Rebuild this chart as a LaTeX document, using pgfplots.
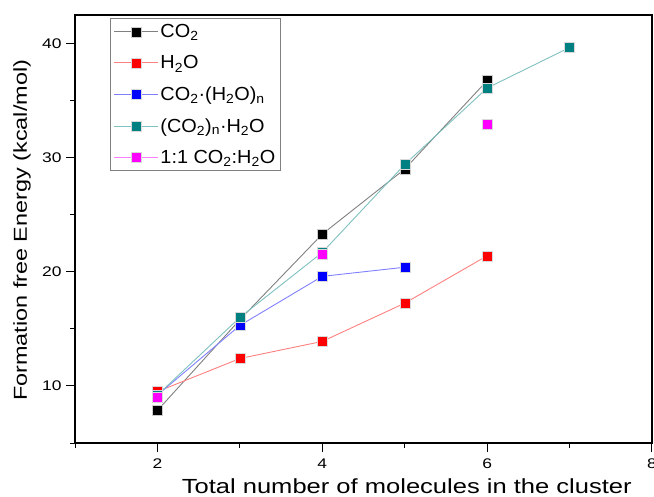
\documentclass[border=0pt]{standalone}
\usepackage{fontspec}
\setmainfont[FakeStretch=1.25]{Liberation Sans}
\newfontfamily\legfont[FakeStretch=1.05]{Liberation Sans}
\usepackage{pgfplots}
\pgfplotsset{compat=1.18}
\definecolor{cblack}{HTML}{000000}
\definecolor{lblack}{HTML}{808080}
\definecolor{cred}{HTML}{FF0000}
\definecolor{lred}{HTML}{FF8080}
\definecolor{cblue}{HTML}{0000FF}
\definecolor{lblue}{HTML}{8080FF}
\definecolor{cteal}{HTML}{008080}
\definecolor{lteal}{HTML}{80C0C0}
\definecolor{cmag}{HTML}{FF00FF}
\definecolor{lmag}{HTML}{FF80FF}
\begin{document}
\begin{tikzpicture}
\useasboundingbox (0,0) rectangle (654bp,497bp);
\begin{axis}[
  at={(75bp,54bp)}, anchor=south west,
  scale only axis, width=577bp, height=428bp,
  xmin=1, xmax=8, ymin=5, ymax=42.5,
  xtick={0,2,4,6,8}, ytick={0,10,20,30,40},
  minor x tick num=1, minor y tick num=1,
  tick align=outside, tick pos=left,
  major tick length=9bp, minor tick length=5bp,
  axis line style={line width=1.2bp},
  every tick/.style={black, line width=1bp},
  /pgf/number format/assume math mode=true,
  ticklabel style={font=\fontsize{14}{16}\selectfont},
  xticklabel style={yshift=-3bp},
  yticklabel style={xshift=-1bp},
  xlabel={Total number of molecules in the cluster},
  ylabel={Formation free Energy (kcal/mol)},
  xlabel style={font=\fontsize{20.5}{24}\selectfont, at={(axis description cs:0.575,-0.1)}, anchor=center},
  ylabel style={font=\fontsize{18.8}{22}\selectfont, at={(axis description cs:-0.092,0.497)}, anchor=center, rotate=0},
  legend cell align=left,
  legend style={at={(axis description cs:0.061,0.993)}, anchor=north west,
    draw=gray, line width=0.8bp, font=\legfont\fontsize{19}{22}\selectfont,
    inner xsep=3bp, inner ysep=4bp, row sep=12.5bp},
  legend image code/.code={
    \draw[#1, mark=none, line width=0.9bp] (0bp,0bp) -- (44bp,0bp);
    \draw[#1, only marks] plot coordinates {(22bp,0bp)};},
  every axis plot/.append style={line width=0.9bp, mark=square*, mark size=5bp},
]
\addplot[lblack, mark options={fill=cblack, draw=gray!40, line width=0.4bp}]
  coordinates {(2,7.85) (3,15.8) (4,23.3) (5,29.0) (6,36.75)};
\addlegendentry{CO\textsubscript{2}}
\addplot[lred, mark options={fill=cred, draw=gray!30, line width=0.4bp}]
  coordinates {(2,9.5) (3,12.4) (4,13.9) (5,17.25) (6,21.4)};
\addlegendentry{H\textsubscript{2}O}
\addplot[lblue, mark options={fill=cblue, draw=gray!30, line width=0.4bp}]
  coordinates {(2,9.2) (3,15.3) (4,19.6) (5,20.4)};
\addlegendentry{CO\textsubscript{2}·(H\textsubscript{2}O)\textsubscript{n}}
\addplot[lteal, mark options={fill=cteal, draw=gray!30, line width=0.4bp}]
  coordinates {(2,9.2) (3,16.0) (4,21.7) (5,29.4) (6,36.1) (7,39.65)};
\addlegendentry{(CO\textsubscript{2})\textsubscript{n}·H\textsubscript{2}O}
\addplot[lmag, only marks, forget plot, mark options={fill=cmag, draw=gray!30, line width=0.4bp}]
  coordinates {(2,9.0) (4,21.5) (6,32.9)};
\addlegendimage{lmag, mark=square*, mark size=5bp, mark options={fill=cmag, draw=gray!30, line width=0.4bp}}
\addlegendentry{1:1 CO\textsubscript{2}:H\textsubscript{2}O}
\end{axis}
\end{tikzpicture}
\end{document}
